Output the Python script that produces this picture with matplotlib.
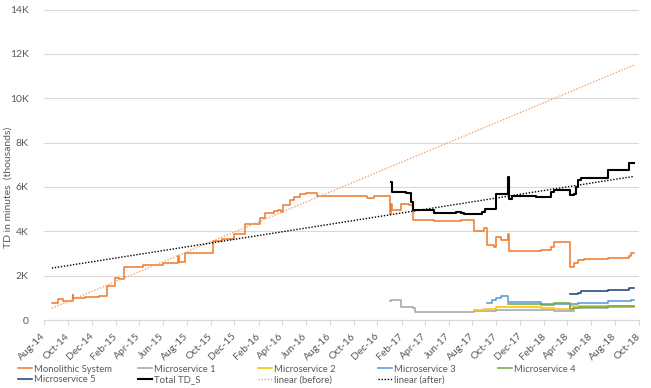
import matplotlib
matplotlib.use('Agg')
import matplotlib.pyplot as plt
import matplotlib.dates as mdates
import pandas as pd

# ---------------- data (values in thousands of minutes) ----------------
mono_dates = ['2014-08-21', '2014-09-05', '2014-09-18', '2014-10-13', '2014-10-15', '2014-11-15',
              '2014-12-20', '2015-01-08', '2015-01-30', '2015-02-10', '2015-02-22', '2015-04-12',
              '2015-06-01', '2015-07-10', '2015-07-12', '2015-07-28', '2015-10-07', '2015-10-31',
              '2015-11-29', '2015-12-27', '2016-02-04', '2016-02-18', '2016-03-11', '2016-03-22',
              '2016-03-28', '2016-04-03', '2016-04-22', '2016-05-01', '2016-05-18', '2016-05-31',
              '2016-06-30', '2016-08-28', '2016-11-05', '2016-11-21', '2017-01-02', '2017-01-04',
              '2017-01-07', '2017-01-29', '2017-02-20', '2017-03-03', '2017-04-25', '2017-07-02',
              '2017-08-05', '2017-08-31', '2017-09-08', '2017-09-24', '2017-09-30', '2017-10-12',
              '2017-10-30', '2017-11-03', '2018-01-23', '2018-02-17', '2018-02-26', '2018-04-08',
              '2018-04-18', '2018-04-27', '2018-05-14', '2018-07-13', '2018-09-06', '2018-09-10',
              '2018-09-19']
mono_values = [0.78, 0.95, 0.86, 1.12, 0.98, 1.02,
               1.06, 1.53, 1.90, 1.85, 2.40, 2.47,
               2.55, 2.88, 2.63, 3.00, 3.57, 3.65,
               3.86, 4.32, 4.58, 4.83, 4.91, 4.98,
               4.85, 5.18, 5.40, 5.55, 5.68, 5.71,
               5.60, 5.58, 5.48, 5.58, 4.80, 5.22,
               4.95, 5.25, 5.18, 4.50, 4.45, 4.50,
               4.00, 4.17, 3.38, 3.30, 3.72, 3.60,
               3.90, 3.12, 3.17, 3.30, 3.50, 2.40,
               2.55, 2.70, 2.75, 2.80, 2.88, 3.00,
               3.00]

ms1_dates = ['2017-01-02', '2017-01-05', '2017-01-30', '2017-03-03', '2017-03-08', '2017-08-05',
             '2017-09-30', '2018-02-26', '2018-04-18', '2018-07-13', '2018-09-19']
ms1_values = [0.87, 0.92, 0.60, 0.53, 0.38, 0.40, 0.47, 0.42, 0.53, 0.57, 0.57]

ms2_dates = ['2017-08-05', '2017-08-31', '2017-09-30', '2018-01-23', '2018-02-26', '2018-04-08',
             '2018-07-13', '2018-09-19']
ms2_values = [0.45, 0.50, 0.57, 0.55, 0.48, 0.63, 0.65, 0.65]

ms3_dates = ['2017-09-08', '2017-09-21', '2017-09-30', '2017-10-12', '2017-11-01', '2018-01-23',
             '2018-04-27', '2018-07-13', '2018-09-10', '2018-09-19']
ms3_values = [0.75, 0.90, 0.98, 1.10, 0.80, 0.70, 0.78, 0.85, 0.90, 0.90]

ms4_dates = ['2017-10-31', '2018-01-23', '2018-02-26', '2018-04-08', '2018-04-15', '2018-05-01',
             '2018-07-13', '2018-09-19']
ms4_values = [0.72, 0.68, 0.75, 0.48, 0.55, 0.60, 0.65, 0.65]

ms5_dates = ['2018-04-08', '2018-04-27', '2018-05-05', '2018-07-13', '2018-09-06', '2018-09-19']
ms5_values = [1.16, 1.23, 1.30, 1.35, 1.43, 1.43]

total_dates = ['2017-01-05', '2017-01-06', '2017-02-11', '2017-02-26', '2017-03-03', '2017-04-25',
               '2017-06-20', '2017-07-02', '2017-07-10', '2017-08-25', '2017-09-03', '2017-09-30',
               '2017-11-01', '2017-11-03', '2017-11-09', '2018-01-10', '2018-02-17', '2018-02-26',
               '2018-04-08', '2018-04-18', '2018-04-22', '2018-04-27', '2018-05-05', '2018-07-13',
               '2018-09-06', '2018-09-19']
total_values = [6.20, 5.78, 5.73, 5.33, 4.95, 4.83,
                4.87, 4.83, 4.78, 4.88, 5.02, 5.70,
                6.45, 5.45, 5.58, 5.55, 5.75, 5.86,
                5.63, 5.70, 6.00, 6.30, 6.40, 6.76,
                7.10, 7.10]

trend_before_dates = ['2014-08-21', '2018-09-19']
trend_before_values = [0.53, 11.50]
trend_after_dates = ['2014-08-21', '2018-09-19']
trend_after_values = [2.34, 6.48]

y_ticks = [0, 2, 4, 6, 8, 10, 12, 14]
y_tick_labels = ['0', '2K', '4K', '6K', '8K', '10K', '12K', '14K']

# ---------------- plotting ----------------
plt.rcParams['font.family'] = ['Lato', 'DejaVu Sans']
TXT = '#595959'

fig = plt.figure(figsize=(6.51, 3.88), dpi=100)
ax = fig.add_axes([44 / 651, 1 - 320 / 388, 595 / 651, (320 - 9.5) / 388])

def d(lst):
    return pd.to_datetime(lst)

h_mono, = ax.step(d(mono_dates), mono_values, where='post', color='#ED7D31', lw=1.15, label='Monolithic System')
h_ms1, = ax.step(d(ms1_dates), ms1_values, where='post', color='#A5A5A5', lw=1.15, label='Microservice 1')
h_ms2, = ax.step(d(ms2_dates), ms2_values, where='post', color='#FFC000', lw=1.15, label='Microservice 2')
h_ms3, = ax.step(d(ms3_dates), ms3_values, where='post', color='#5B9BD5', lw=1.15, label='Microservice 3')
h_ms4, = ax.step(d(ms4_dates), ms4_values, where='post', color='#70AD47', lw=1.15, label='Microservice 4')
h_ms5, = ax.step(d(ms5_dates), ms5_values, where='post', color='#264478', lw=1.15, label='Microservice 5')
h_tot, = ax.step(d(total_dates), total_values, where='post', color='#000000', lw=1.5, label='Total TD_S')
h_lb, = ax.plot(d(trend_before_dates), trend_before_values, color='#F4A46E', lw=1.0,
                linestyle=(0, (1, 1.2)), label='linear (before)')
h_la, = ax.plot(d(trend_after_dates), trend_after_values, color='#000000', lw=1.0,
                linestyle=(0, (1, 1.2)), label='linear (after)')

ax.set_xlim(pd.Timestamp('2014-08-01'), pd.Timestamp('2018-10-01'))
ax.set_ylim(0, 14)
ax.set_yticks(y_ticks)
ax.set_yticklabels(y_tick_labels)

ax.xaxis.set_major_locator(mdates.MonthLocator(bymonth=[2, 4, 6, 8, 10, 12]))
ax.xaxis.set_major_formatter(mdates.DateFormatter('%b-%y'))

for s in ['top', 'right', 'left']:
    ax.spines[s].set_visible(False)
ax.spines['bottom'].set_color('#D9D9D9')
ax.spines['bottom'].set_linewidth(0.8)

ax.grid(axis='y', color='#D9D9D9', lw=0.8)
ax.set_axisbelow(True)

ax.tick_params(axis='y', length=0, pad=11, labelsize=7.5, labelcolor=TXT)
ax.tick_params(axis='x', length=3.5, width=0.8, color='#D9D9D9', pad=7, labelsize=7.5, labelcolor=TXT)
for lab in ax.get_xticklabels():
    lab.set_rotation(45)
    lab.set_ha('right')
    lab.set_va('center')
    lab.set_rotation_mode('anchor')

fig.text(8 / 651, 1 - 187 / 388, 'TD in minutes  (thousands)', rotation=90,
         ha='center', va='center', fontsize=7.5, color=TXT)

# legend: five equally spaced columns, two rows
cols = [[h_mono, h_ms5], [h_ms1, h_tot], [h_ms2, h_lb], [h_ms3, h_la], [h_ms4]]
col_x = [18, 138, 258, 378, 498]
for hs, x in zip(cols, col_x):
    fig.legend(handles=hs, loc='upper left', bbox_to_anchor=(x / 651, 1 - 364.5 / 388),
               frameon=False, fontsize=6.8, labelcolor=TXT, handlelength=1.45,
               handletextpad=0.2, borderpad=0, borderaxespad=0, labelspacing=0.2)

fig.savefig('out.png', dpi=100)
